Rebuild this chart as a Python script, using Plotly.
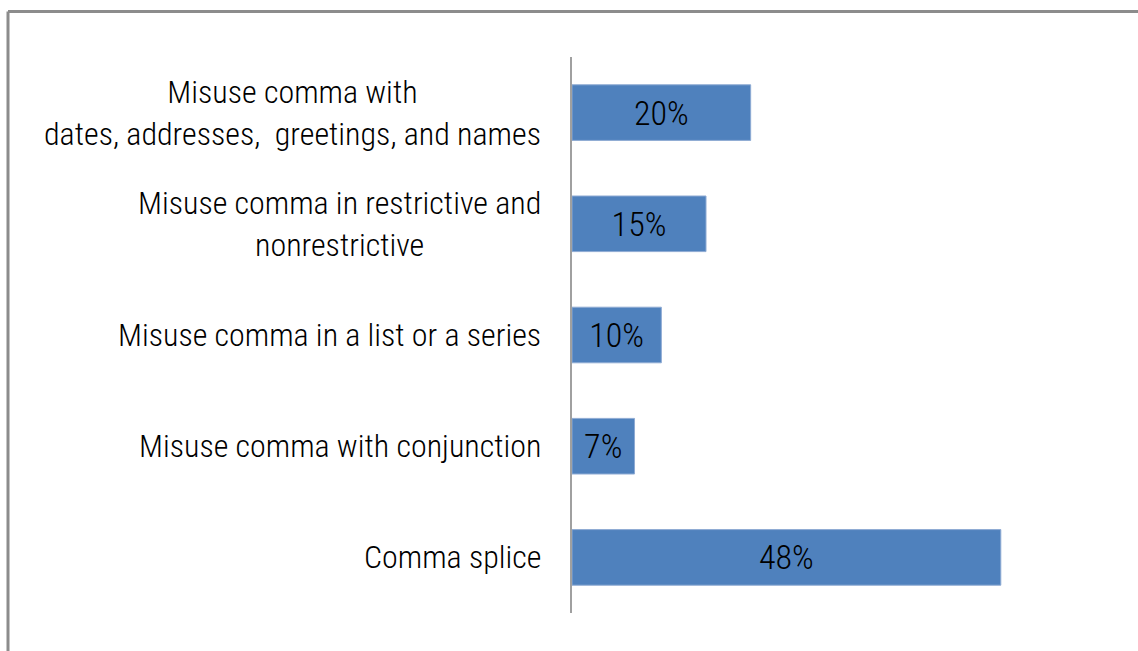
import plotly.graph_objects as go

# Comma error categories (top to bottom) and their share in percent
categories = [
    "Misuse comma with<br>dates, addresses,  greetings, and names",
    "Misuse comma in restrictive and<br>nonrestrictive",
    "Misuse comma in a list or a series",
    "Misuse comma with conjunction",
    "Comma splice",
]
shares = [20, 15, 10, 7, 48]

FONT = "Roboto Condensed, Roboto, sans-serif"
W, H = 1138, 651
ML, MR, MT, MB = 572, 30, 57, 38
PW, PH = W - ML - MR, H - MT - MB

fig = go.Figure(
    go.Bar(
        x=shares,
        y=list(range(len(categories))),
        orientation="h",
        marker=dict(color="#4F81BD", line=dict(width=1, color="#8EAAD3")),
        texttemplate="%{x}%",
        textposition="inside",
        insidetextanchor="middle",
        constraintext="none",
        textfont=dict(family=FONT, size=34, color="#000000", weight=300),
        hoverinfo="skip",
    )
)

# Category labels: right-aligned block, wrapped lines centred within it
for i, label in enumerate(categories):
    fig.add_annotation(
        x=0, xref="paper", y=i, yref="y",
        text=label, showarrow=False,
        xanchor="right", yanchor="middle", align="center",
        xshift=-29,
        font=dict(family=FONT, size=32, color="#000000", weight=300),
    )

# Outer frame (top and left edges)
def px_x(p):
    return (p - ML) / PW

def px_y(p):
    return (H - MB - p) / PH

frame = dict(color="#8C8C8C", width=3)
fig.add_shape(type="line", xref="paper", yref="paper",
              x0=px_x(8), x1=px_x(W + 5), y0=px_y(11.5), y1=px_y(11.5), line=frame)
fig.add_shape(type="line", xref="paper", yref="paper",
              x0=px_x(8), x1=px_x(8), y0=px_y(11.5), y1=px_y(H + 5), line=frame)

fig.update_layout(
    width=W, height=H,
    margin=dict(l=ML, r=MR, t=MT, b=MB),
    paper_bgcolor="#FFFFFF", plot_bgcolor="#FFFFFF",
    bargap=0.5,
    showlegend=False,
    xaxis=dict(range=[0, 60], visible=False, fixedrange=True),
    yaxis=dict(
        range=[len(categories) - 0.5, -0.5],
        showticklabels=False, showgrid=False, zeroline=False,
        showline=True, linecolor="#A0A0A0", linewidth=1.5,
        fixedrange=True,
    ),
)

fig.write_html("out.html")
